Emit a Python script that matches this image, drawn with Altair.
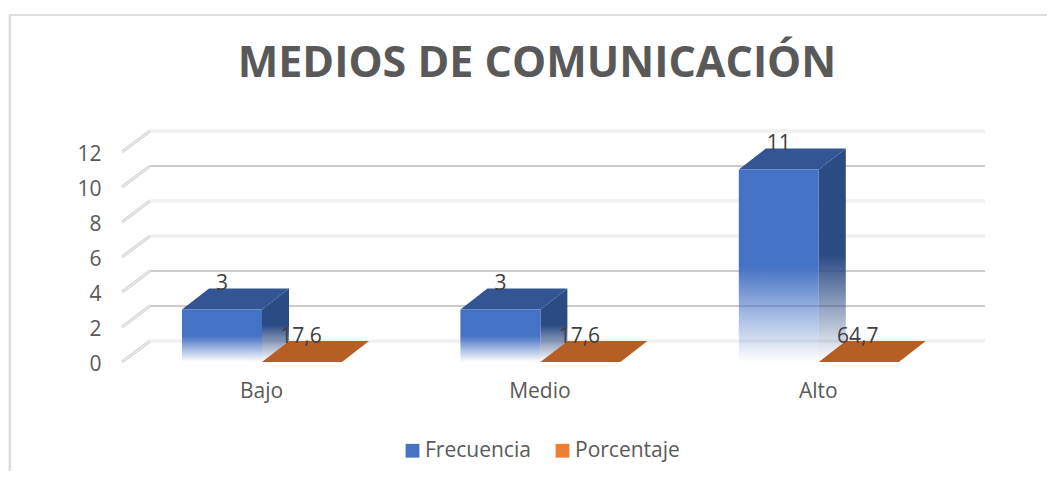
import altair as alt
import pandas as pd

categorias = ["Bajo", "Medio", "Alto"]
frecuencia = [3, 3, 11]
porcentaje = [17.6, 17.6, 64.7]
altura_porcentaje = [0, 0, 0]  # the orange bars are drawn flat in the reference
series = ["Frecuencia", "Porcentaje"]
ticks = [0, 2, 4, 6, 8, 10, 12]
grid_claro = [0, 6, 8, 12]
grid_oscuro = [2, 4, 10]

PX_X = 278.4   # px per category
PX_Y = 17.5    # px per y unit
W, H = 1038, 457
X_ORIGIN, Y_ORIGIN = 262, 362   # px of category 0 / value 0 (front plane)
LEFT, TOP = 9, 14


def ux(px):
    return px / PX_X


XDOM = [(LEFT - X_ORIGIN) / PX_X, (LEFT + W - X_ORIGIN) / PX_X]
YDOM = [(Y_ORIGIN - (TOP + H)) / PX_Y, (Y_ORIGIN - TOP) / PX_Y]
BW = ux(80)
DX = ux(27)
DY = 21 / PX_Y
WALL0, WALL1 = ux(150 - X_ORIGIN), ux(985 - X_ORIGIN)
FRONT0 = ux(122 - X_ORIGIN)

xs = alt.Scale(domain=XDOM, nice=False, zero=False)
ys = alt.Scale(domain=YDOM, nice=False, zero=False)
X = alt.X("x:Q", scale=xs, title=None,
          axis=alt.Axis(values=[0, 1, 2], labelExpr="['Bajo','Medio','Alto'][datum.value]",
                        grid=False, domain=False, ticks=False, labelFontSize=21, labelColor="#595959",
                        labelFont="Open Sans", labelPadding=0, offset=-(TOP + H - 380), labelFlush=False,
                        labelOffset=-1))
Y = alt.Y("y:Q", scale=ys, title=None,
          axis=alt.Axis(values=ticks, grid=False, domain=False, ticks=False, labelFontSize=21,
                        labelColor="#595959", labelFont="Open Sans", labelPadding=0,
                        offset=-(101 - LEFT), labelFlush=False, labelOffset=2))
X2 = alt.X2("x2:Q")
Y2 = alt.Y2("y2:Q")


def grad(c):
    transparent = "rgba(%d,%d,%d,0)" % tuple(int(c[i:i + 2], 16) for i in (1, 3, 5))
    return alt.Gradient(gradient="linear", x1=0, x2=0, y1=0, y2=1,
                        stops=[alt.GradientStop(color=c, offset=0),
                               alt.GradientStop(color=c, offset=0.5),
                               alt.GradientStop(color=transparent, offset=1)])


# ---- derived tables
grid_l = pd.DataFrame([{"x": WALL0, "x2": WALL1, "y": t + DY} for t in grid_claro])
grid_d = pd.DataFrame([{"x": WALL0, "x2": WALL1, "y": t + DY} for t in grid_oscuro])
diag = pd.DataFrame([{"x": FRONT0, "x2": WALL0, "y": t, "y2": t + DY} for t in ticks])
front = pd.DataFrame([{"x": i - BW, "x2": i, "y": 0, "y2": v} for i, v in enumerate(frecuencia)])

side, top_b, top_o = [], [], []
for i, v in enumerate(frecuencia):
    side += [{"k": i, "x": i, "y": 0, "y2": v}, {"k": i, "x": i + DX, "y": DY, "y2": v + DY}]
    x0 = i - BW
    top_b += [{"k": i, "x": x0, "y": v, "y2": v},
              {"k": i, "x": x0 + DX, "y": v, "y2": v + DY},
              {"k": i, "x": x0 + BW, "y": v, "y2": v + DY},
              {"k": i, "x": x0 + BW + DX, "y": v + DY, "y2": v + DY}]
for i, v in enumerate(altura_porcentaje):
    x0 = i
    top_o += [{"k": i, "x": x0, "y": v, "y2": v},
              {"k": i, "x": x0 + DX, "y": v, "y2": v + DY},
              {"k": i, "x": x0 + BW, "y": v, "y2": v + DY},
              {"k": i, "x": x0 + BW + DX, "y": v + DY, "y2": v + DY}]

etiquetas = pd.DataFrame(
    [{"x": i - BW / 2, "y": v + 1.45, "t": str(v)} for i, v in enumerate(frecuencia)] +
    [{"x": i + BW / 2 - ux(1), "y": a + 1.45, "t": str(p).replace(".", ",")}
     for i, (p, a) in enumerate(zip(porcentaje, altura_porcentaje))])
borde_h = pd.DataFrame([{"x": XDOM[0], "x2": XDOM[1], "y": YDOM[1] - 0.06}])
borde_v = pd.DataFrame([{"x": XDOM[0] + 0.003, "y": YDOM[0], "y2": YDOM[1]}])
ley = pd.DataFrame({"x": [0, 0], "y": [0, 0], "serie": series})

layers = [
    alt.Chart(ley).mark_square(opacity=0).encode(
        x=X, y=Y,
        color=alt.Color("serie:N", scale=alt.Scale(domain=series, range=["#4472C4", "#ED7D31"]),
                        legend=alt.Legend(orient="none", legendX=393, legendY=426, direction="horizontal",
                                          columns=2, title=None, symbolType="square", symbolSize=190,
                                          symbolOpacity=1, symbolStrokeWidth=0, labelFontSize=21, labelColor="#595959",
                                          labelFont="Open Sans", labelLimit=200, columnPadding=21, labelOffset=2))),
    alt.Chart(borde_h).mark_rule(stroke="#dddddd", strokeWidth=2, clip=False).encode(x=X, x2=X2, y=Y),
    alt.Chart(borde_v).mark_rule(stroke="#dddddd", strokeWidth=2.5, clip=False).encode(x=X, y=Y, y2=Y2),
    alt.Chart(grid_l).mark_rule(stroke="#f0f0f0", strokeWidth=3.5).encode(x=X, x2=X2, y=Y),
    alt.Chart(grid_d).mark_rule(stroke="#cccccc", strokeWidth=2).encode(x=X, x2=X2, y=Y),
    alt.Chart(diag).mark_rule(stroke="#d4d4d4", strokeWidth=3).encode(x=X, x2=X2, y=Y, y2=Y2),
    alt.Chart(diag).mark_rule(stroke="#f4f4f4", strokeWidth=1).encode(x=X, x2=X2, y=Y, y2=Y2),
    alt.Chart(pd.DataFrame(side)).mark_area(fill=grad("#2B4B84"), interpolate="linear").encode(
        x=X, y=Y, y2=Y2, detail="k:N"),
    alt.Chart(pd.DataFrame(top_b)).mark_area(fill="#335593", interpolate="linear").encode(
        x=X, y=Y, y2=Y2, detail="k:N"),
    alt.Chart(front).mark_bar(fill=grad("#4472C4")).encode(x=X, x2=X2, y=Y, y2=Y2),
    alt.Chart(pd.DataFrame(top_o)).mark_area(fill="#B55F24", interpolate="linear").encode(
        x=X, y=Y, y2=Y2, detail="k:N"),
    alt.Chart(etiquetas).mark_text(font="Open Sans", fontSize=21, color="#404040", baseline="middle").encode(
        x=X, y=Y, text="t:N"),
]

chart = alt.layer(*layers).resolve_scale(color="independent").properties(
    width=W, height=H,
    title=alt.TitleParams("MEDIOS DE COMUNICACIÓN", font="Open Sans", fontSize=43, fontWeight="bold",
                          color="#595959", anchor="middle", offset=-73, dx=9),
    padding={"left": LEFT - 8, "top": TOP - 8, "right": 0, "bottom": 0},
    autosize=alt.AutoSizeParams(type="none"),
    background="white",
).configure_view(stroke=None)

chart.save("out.html", embed_options={"renderer": "svg", "actions": False})
